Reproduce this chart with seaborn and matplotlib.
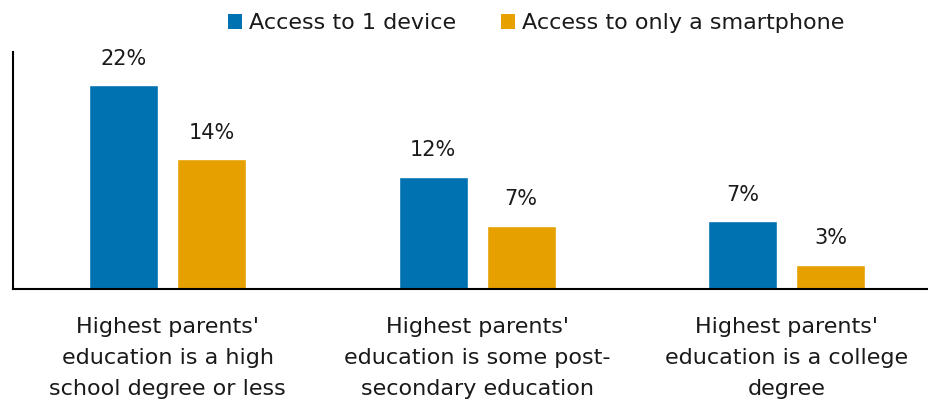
import matplotlib
matplotlib.use("Agg")
import matplotlib.pyplot as plt
import seaborn as sns
import pandas as pd
from matplotlib.patches import Patch

categories = [
    "Highest parents'\neducation is a high\nschool degree or less",
    "Highest parents'\neducation is some post-\nsecondary education",
    "Highest parents'\neducation is a college\ndegree",
]
series_names = ["Access to 1 device", "Access to only a smartphone"]
device_values = [22.0, 12.1, 7.3]
smartphone_values = [14.0, 6.8, 2.6]
device_labels = ["22%", "12%", "7%"]
smartphone_labels = ["14%", "7%", "3%"]
colors = ["#0071B1", "#E6A000"]

df = pd.DataFrame({
    "category": categories * 2,
    "series": [series_names[0]] * 3 + [series_names[1]] * 3,
    "value": device_values + smartphone_values,
})

sns.set_theme(style="white")
plt.rcParams["font.family"] = ["DejaVu Sans"]

fig = plt.figure(figsize=(9.29, 4.04), dpi=100)
ax = fig.add_axes([13 / 929, (404 - 289) / 404, (929 - 13) / 929, (289 - 52) / 404])

sns.barplot(data=df, x="category", y="value", hue="series", palette=colors,
            width=0.569, gap=0.215, ax=ax, legend=False, saturation=1)

ax.set_xlim(-0.5, 2.46)
ax.set_ylim(0, 25.6)
ax.set_xlabel("")
ax.set_ylabel("")
ax.set_yticks([])
for s in ["top", "right"]:
    ax.spines[s].set_visible(False)
for s in ["left", "bottom"]:
    ax.spines[s].set_color("black")
    ax.spines[s].set_linewidth(1.5)

ax.tick_params(axis="x", length=0, pad=20, labelsize=16, colors="#1a1a1a")
for lab in ax.get_xticklabels():
    lab.set_linespacing(1.7)
    lab.set_horizontalalignment("center")

for cont, labs in zip(ax.containers, [device_labels, smartphone_labels]):
    ax.bar_label(cont, labels=labs, padding=12, fontsize=15, color="#1a1a1a")

handles = [Patch(facecolor=c, edgecolor="none") for c in colors]
fig.legend(handles, series_names, loc="center", ncol=2, frameon=False,
           bbox_to_anchor=(536 / 929, 1 - 23 / 404), fontsize=16,
           handlelength=0.65, handleheight=0.65, handletextpad=0.3,
           columnspacing=2.0, labelcolor="#1a1a1a")

fig.savefig("out.png", dpi=100)
